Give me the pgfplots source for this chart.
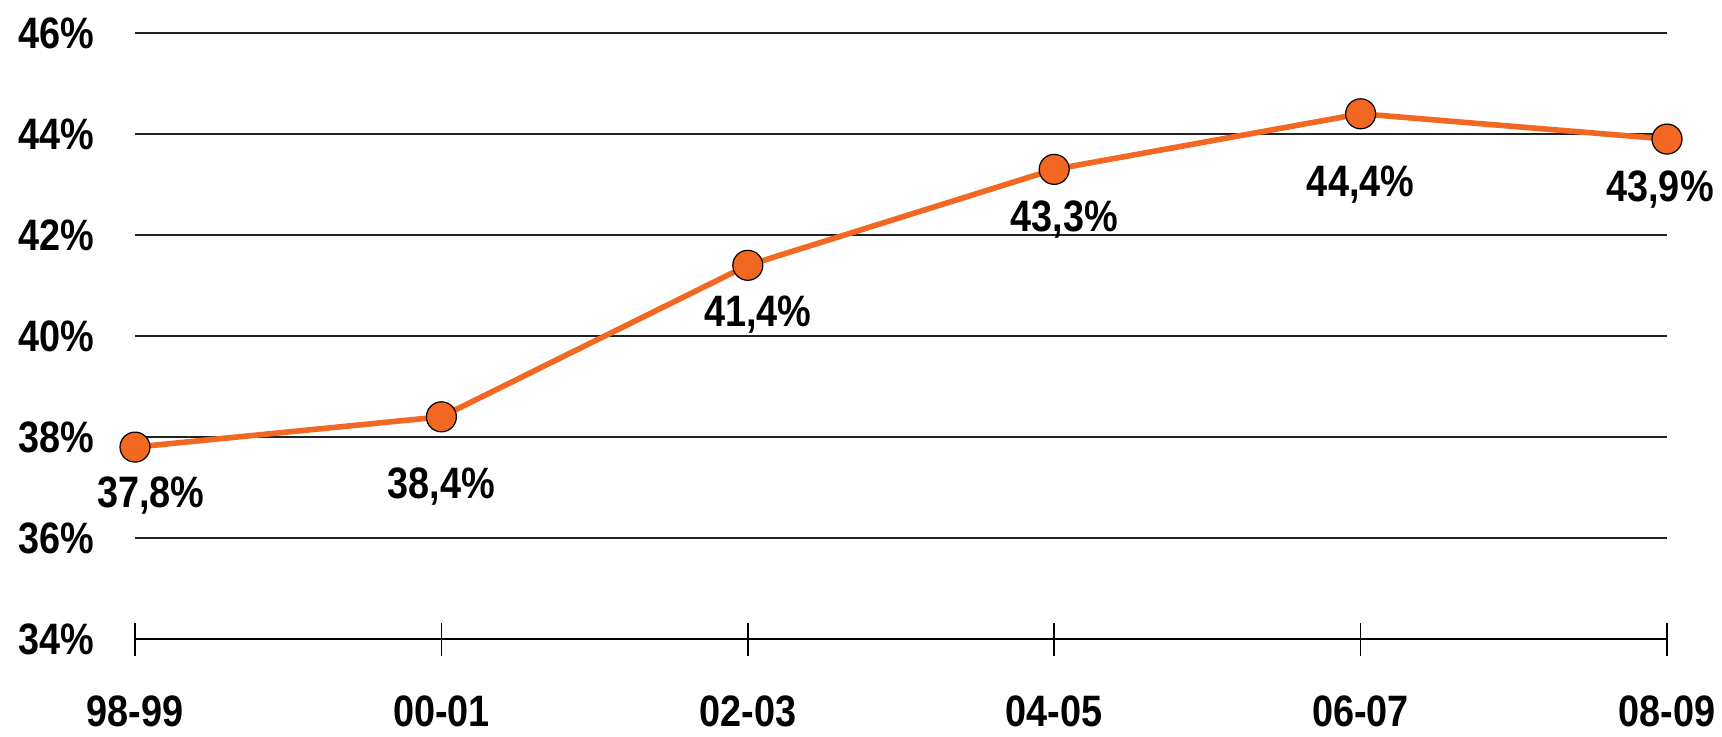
\documentclass[border=0pt]{standalone}
\usepackage{fontspec}
\setmainfont{Liberation Sans}[FakeStretch=0.86]
\usepackage{pgfplots}
\usepackage{pgfplotstable}
\pgfplotsset{compat=1.18}
\definecolor{lineorange}{HTML}{F26722}
\definecolor{gridgray}{HTML}{222222}
\pgfplotstableread{
x y dx dy
0 37.8 8 -30
1 38.4 0 -41
2 41.4 5 -30.5
3 43.3 5 -31
4 44.4 0 -41.5
5 43.9 -3.5 -31
}\datatable
\begin{document}
\begin{tikzpicture}
\path[use as bounding box] (-67.5pt,-48.5pt) rectangle (793.5pt,319.5pt);
\begin{axis}[
  at={(0,0)}, anchor=south west,
  scale only axis,
  width=766pt, height=303pt,
  xmin=0, xmax=5, ymin=34, ymax=46,
  xtick=data,
  xticklabels={98-99,00-01,02-03,04-05,06-07,08-09},
  ytick={34,36,38,40,42,44,46},
  yticklabel={\pgfmathprintnumber{\tick}\%},
  /pgf/number format/assume math mode=true,
  axis x line*=bottom,
  axis y line*=left,
  y axis line style={draw=none},
  x axis line style={black, line width=0.8pt, -},
  ytick style={draw=none},
  xtick style={black, line width=0.8pt},
  tick align=center,
  major tick length=16.5pt,
  ymajorgrids,
  grid style={gridgray, line width=0.55pt},
  tick label style={font=\fontsize{22}{26}\selectfont\bfseries, text=black},
  yticklabel style={anchor=east, inner sep=0pt, xshift=-12pt},
  xticklabel style={anchor=north, inner sep=0pt, yshift=-20pt},
  clip=false,
]
\addplot[
  lineorange, line width=2.8pt,
  mark=*, mark size=7.5pt,
  mark options={fill=lineorange, draw=black, line width=0.6pt},
  point meta=y,
  visualization depends on={\thisrow{dx}\as\dx},
  visualization depends on={\thisrow{dy}\as\dy},
  nodes near coords={\pgfmathprintnumber[fixed,fixed zerofill,precision=1,use comma]{\pgfplotspointmeta}\%},
  every node near coord/.append style={anchor=base, inner sep=0pt, xshift=\dx pt, yshift=\dy pt, font=\fontsize{22}{26}\selectfont\bfseries, text=black},
] table[x=x, y=y] {\datatable};
\end{axis}
\end{tikzpicture}
\end{document}
